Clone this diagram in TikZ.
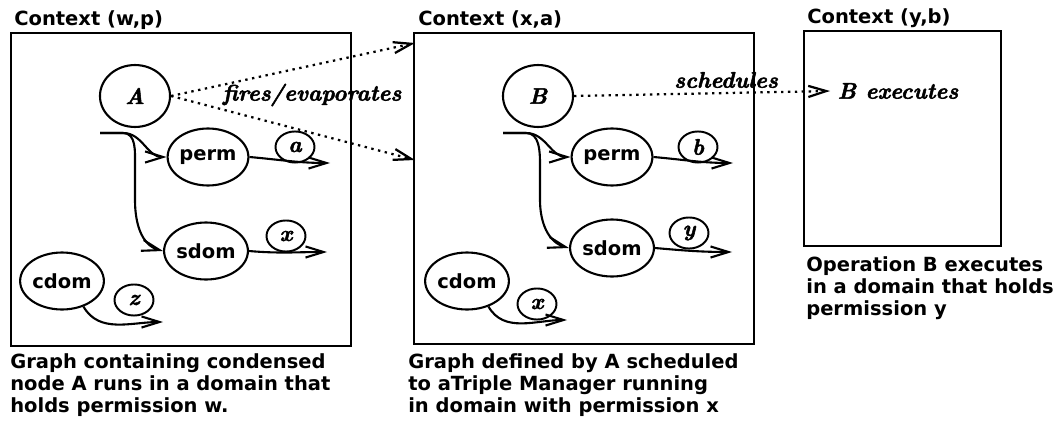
\documentclass[tikz,border=0pt]{standalone}
\usepackage[no-math]{fontspec}
\setsansfont{DejaVu Sans}
\newfontfamily\lblfont[FakeBold=2.2]{Latin Modern Roman}
\usepackage{tikz}
\usetikzlibrary{shapes.geometric,arrows.meta,positioning,calc}

\newcommand{\lbl}[1]{{\fontsize{15}{15}\lblfont\itshape #1}}

\tikzset{
  txt/.style={font=\fontsize{13}{14.7}\selectfont\sffamily\bfseries, inner sep=0pt},
  ctxbox/.style={draw, line width=1.5pt, anchor=north west, inner sep=0pt},
  bignode/.style={draw, shape=ellipse, line width=1.4pt, inner sep=0pt,
    minimum width=46.7pt, minimum height=41.3pt, txt},
  domnode/.style={draw, shape=ellipse, line width=1.4pt, inner sep=0pt,
    minimum width=46.7pt, minimum height=38pt, txt},
  permnode/.style={draw, shape=ellipse, line width=1.3pt, inner sep=0pt,
    minimum width=26pt, minimum height=20.7pt, txt},
  flow/.style={line width=1.4pt, -{Straight Barb[length=4.2mm,width=2.6mm]}},
  dotarrow/.style={line width=1.5pt, dash pattern=on 1.6pt off 3pt,
    -{Straight Barb[length=4.2mm,width=2.6mm]}}
}

\begin{document}
\begin{tikzpicture}[x=0.6667pt, y=-0.6667pt]
    \useasboundingbox (0,0) rectangle (1053,430);

    % the three contexts
    \node[ctxbox, minimum width=226.7pt, minimum height=208.7pt] (ctxwp) at (10,32) {};
    \node[ctxbox, minimum width=226.7pt, minimum height=207.3pt] (ctxxa) at (413,32) {};
    \node[ctxbox, minimum width=131.3pt, minimum height=143.3pt] (ctxyb) at (803,30) {};
    \node[txt, anchor=base west] (ttlwp) at (14,26) {Context (w,p)};
    \node[txt, anchor=base west] (ttlxa) at (418,26) {Context (x,a)};
    \node[txt, anchor=base west] (ttlyb) at (807,24) {Context (y,b)};

    % context (w,p)
    \node[bignode] (A) at (135,96) {\lbl{A}};
    \node[domnode] (perm1) at (208,157) {perm};
    \node[domnode] (sdom1) at (206,251) {sdom};
    \node[domnode] (cdom1) at (62,281) {cdom};
    \node[permnode] (a1) at (295,147) {\lbl{a}};
    \node[permnode] (x1) at (286,236) {\lbl{x}};
    \node[permnode] (z1) at (134,300) {\lbl{z}};
    \coordinate (in1) at (100,133);
    \coordinate (p1end) at (330,163);
    \coordinate (s1end) at (327,252);
    \coordinate (c1end) at (163,322);

    \draw[flow] (in1) -- (123,133) to[out=0,in=180] (perm1.west);
    \draw[flow] (in1) -- (123,133) to[out=0,in=90] (135,165)
        -- (135,200) to[out=-90,in=165] (sdom1.west);
    \draw[flow] (perm1.east) to[out=-5,in=180] (p1end);
    \draw[flow] (sdom1.east) to[out=-5,in=180] (s1end);
    \draw[flow] (cdom1.-50) to[out=-60,in=180] (c1end);

    % context (x,a)
    \node[bignode] (B) at (538,96) {\lbl{B}};
    \node[domnode] (perm2) at (612,157) {perm};
    \node[domnode] (sdom2) at (612,248) {sdom};
    \node[domnode] (cdom2) at (467,281) {cdom};
    \node[permnode] (b2) at (698,147) {\lbl{b}};
    \node[permnode] (y2) at (689,233) {\lbl{y}};
    \node[permnode] (x2) at (537,304) {\lbl{x}};
    \coordinate (in2) at (503,133);
    \coordinate (p2end) at (733,163);
    \coordinate (s2end) at (732,252);
    \coordinate (c2end) at (567,320);

    \draw[flow] (in2) -- (526,133) to[out=0,in=180] (perm2.west);
    \draw[flow] (in2) -- (526,133) to[out=0,in=90] (540,165)
        -- (540,200) to[out=-90,in=165] (sdom2.west);
    \draw[flow] (perm2.east) to[out=-5,in=180] (p2end);
    \draw[flow] (sdom2.east) to[out=-5,in=180] (s2end);
    \draw[flow] (cdom2.-50) to[out=-60,in=180] (c2end);

    % context (y,b)
    \node[txt] (bexec) at (898,91) {\lbl{B executes}};
    \coordinate (execin) at (830,91);

    % links between contexts
    \coordinate (fireup) at (415,43);
    \coordinate (firedown) at (415,160);
    \draw[dotarrow] (A.east) -- (fireup);
    \draw[dotarrow] (A.east) -- (firedown);
    \node[txt] (fires) at (312,95) {\lbl{fires/evaporates}};
    \draw[dotarrow] (B.east) -- (execin);
    \node[txt] (sched) at (726,80) {\lbl{schedules}};

    % captions
    \node[txt, anchor=north west, align=left] (cap1) at (10,353)
        {Graph containing condensed\\node A runs in a domain that\\holds permission w.};
    \node[txt, anchor=north west, align=left] (cap2) at (408,353)
        {Graph defined by A scheduled\\to aTriple Manager running\\in domain with permission x};
    \node[txt, anchor=north west, align=left] (cap3) at (806,256)
        {Operation B executes\\in a domain that holds\\permission y};
\end{tikzpicture}
\end{document}
